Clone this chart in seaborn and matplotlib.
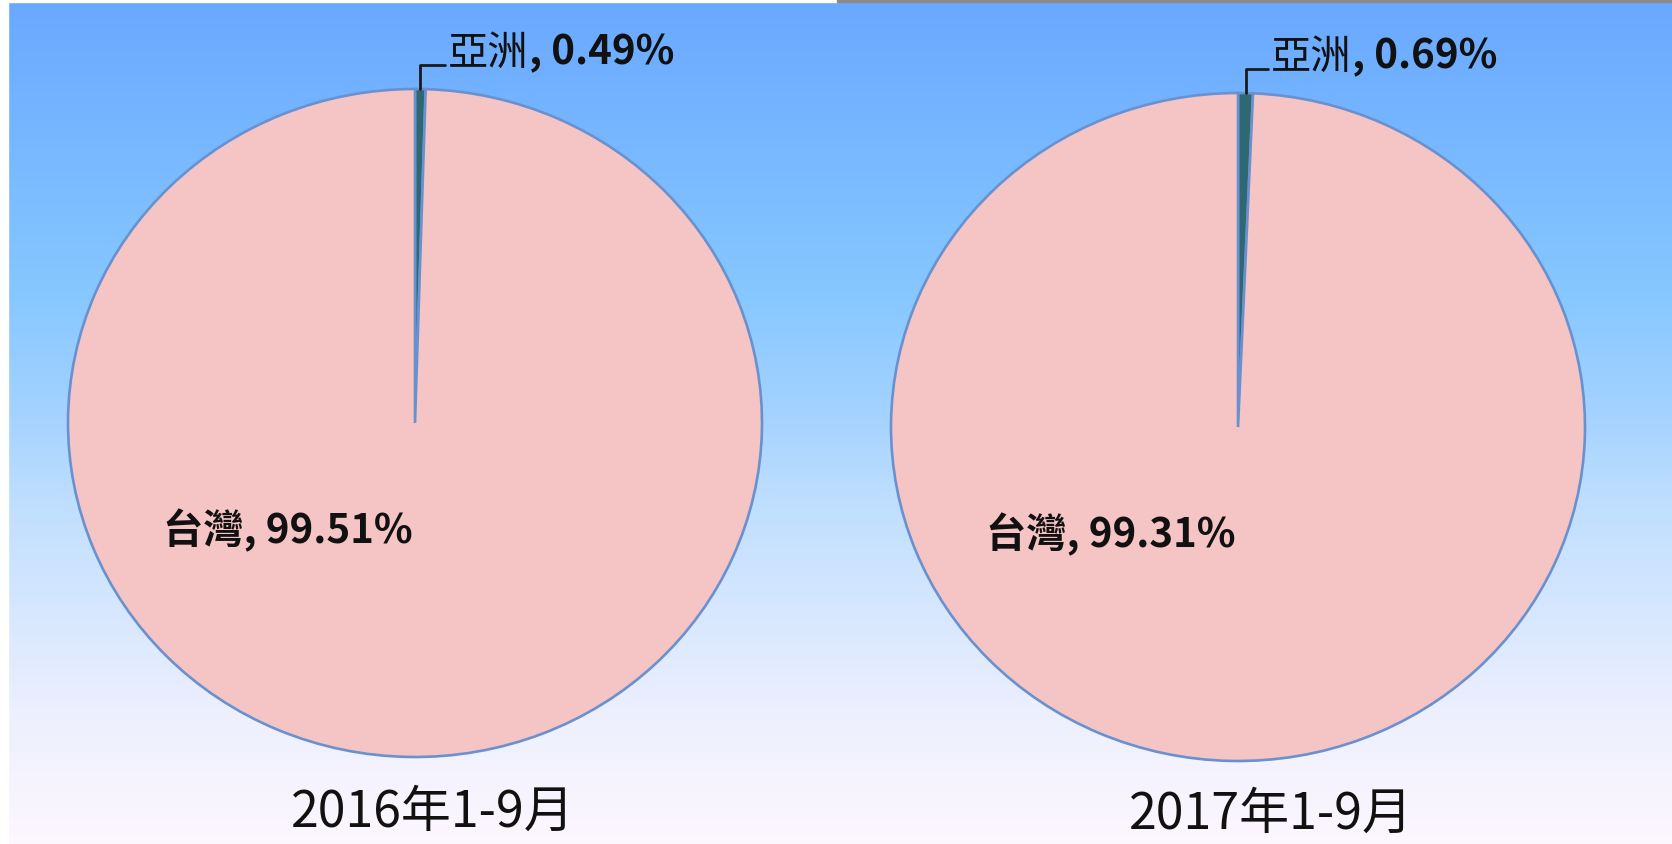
import numpy as np
import matplotlib
matplotlib.use("Agg")
import matplotlib.pyplot as plt
from matplotlib.patches import Rectangle
from matplotlib.text import Text
import seaborn as sns

# data
regions = ["亞洲", "台灣"]
share_2016 = [0.49, 99.51]
share_2017 = [0.69, 99.31]
periods = ["2016年1-9月", "2017年1-9月"]

slice_colors = ["#2f6872", "#f5c4c4"]
edge_color = "#6a91cf"

sns.set_style("white")
plt.rcParams["font.family"] = ["Noto Sans CJK TC", "DejaVu Sans"]

W, H = 1672, 845
fig = plt.figure(figsize=(W / 100, H / 100), dpi=100)

# background gradient (blue at top -> pale pink at bottom)
bg = fig.add_axes([0, 0, 1, 1], zorder=0)
stop_y = [0, 300, 420, 500, 720, 845]
stop_rgb = np.array([
    [105, 168, 255],
    [135, 200, 255],
    [166, 211, 255],
    [190, 222, 255],
    [238, 240, 254],
    [253, 247, 255],
]) / 255
yy = np.arange(H)
grad = np.stack([np.interp(yy, stop_y, stop_rgb[:, c]) for c in range(3)], axis=1)
bg.imshow(np.repeat(grad[:, None, :], 4, axis=1), aspect="auto", extent=[0, 1, 0, 1])
bg.set_axis_off()

# white / grey frame bits
fig.patches.append(Rectangle((0, 0), 8 / W, 1, transform=fig.transFigure, color="white", zorder=5))
fig.patches.append(Rectangle((0, 1 - 3 / H), 837 / W, 3 / H, transform=fig.transFigure, color="white", zorder=5))
fig.patches.append(Rectangle((837 / W, 1 - 3 / H), 1 - 837 / W, 3 / H, transform=fig.transFigure, color="#8a8a8a", zorder=5))


def px_box(left, top, width, height):
    return [left / W, 1 - (top + height) / H, width / W, height / H]


boxes = [(68, 90, 694, 668), (891, 94, 694, 668)]
title_pos = [(433, 813), (1271, 815)]

for shares, period, box, tpos in zip([share_2016, share_2017], periods, boxes, title_pos):
    ax = fig.add_axes(px_box(*box), zorder=2)
    ax.pie(shares, colors=slice_colors, startangle=90, counterclock=False,
           wedgeprops=dict(edgecolor=edge_color, linewidth=1.9, clip_on=False))
    ax.set_aspect("auto")
    ax.set_xlim(-1, 1)
    ax.set_ylim(-1, 1)
    ax.set_axis_off()

    # small slice: leader line from its rim
    mid = np.deg2rad(90 - shares[0] * 3.6 / 2)
    name = ax.annotate(regions[0], xy=(np.cos(mid), np.sin(mid)),
                       xycoords="data", xytext=(0.548, 1.055), textcoords="axes fraction",
                       ha="left", va="center", fontsize=29, color="#111111",
                       arrowprops=dict(arrowstyle="-", color="#1a1a1a", lw=2,
                                       connectionstyle="angle,angleA=0,angleB=90,rad=0",
                                       relpos=(0, 0.2), shrinkA=0, shrinkB=0),
                       annotation_clip=False)
    # bold value right after the name (use the text box only, not the leader)
    ax.annotate(f", {shares[0]:.2f}%", xy=(1, 0.5),
                xycoords=lambda r, t=name: Text.get_window_extent(t, r),
                ha="left", va="center", fontsize=29, fontweight="bold", color="#111111",
                annotation_clip=False)

    # big slice: label inside
    ax.text(0.137, 0.34, f"{regions[1]}, {shares[1]:.2f}%", transform=ax.transAxes,
            ha="left", va="center", fontsize=29, fontweight="bold", color="#111111")

    fig.text(tpos[0] / W, 1 - tpos[1] / H, period, ha="center", va="center",
             fontsize=36, color="#111111")

fig.savefig("out.png", dpi=100)
